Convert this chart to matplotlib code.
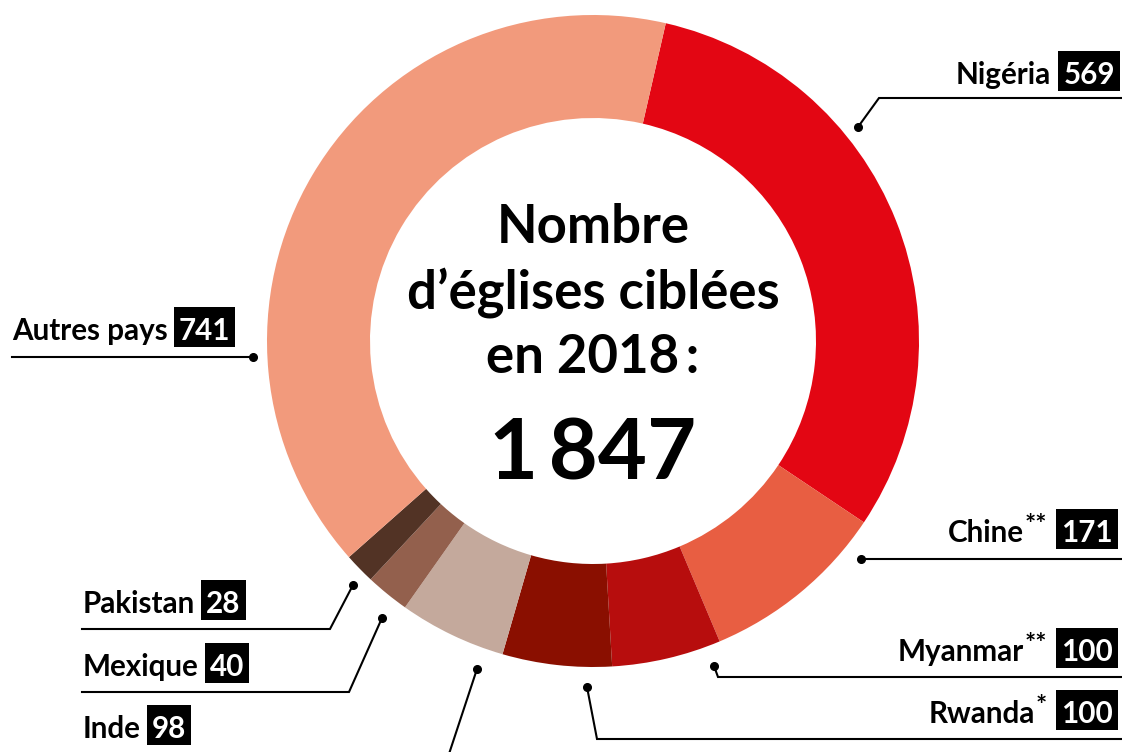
import numpy as np
import matplotlib.pyplot as plt
from matplotlib.patches import Rectangle

plt.rcParams['font.family'] = ['Lato', 'DejaVu Sans']

# donnees
pays = ["Nigéria", "Chine**", "Myanmar**", "Rwanda*", "Inde", "Mexique", "Pakistan", "Autres pays"]
eglises = [569, 171, 100, 100, 98, 40, 28, 741]
couleurs = ["#e30613", "#e85e42", "#b70d0d", "#8a0f00", "#c4a99c", "#93604d", "#523325", "#f29a7c"]
total = sum(eglises)

# mise en page (pixels, y vers le bas)
cx, cy = 593, 341
R = 326
largeur = 103

fig = plt.figure(figsize=(11.22, 7.52), dpi=100)
ax = fig.add_axes([0, 0, 1, 1])

ax.pie(eglises, colors=couleurs, center=(cx, cy), radius=R,
       startangle=-77.1, counterclock=True,
       wedgeprops=dict(width=largeur, linewidth=0))
ax.set_xlim(0, 1122)
ax.set_ylim(752, 0)
ax.set_aspect('equal')
ax.axis('off')

# texte central
ax.text(cx, 243, "Nombre", ha='center', va='baseline', fontsize=38, fontweight='bold')
ax.text(cx, 308, "d\u2019églises ciblées", ha='center', va='baseline', fontsize=38, fontweight='bold')
ax.text(cx, 373, "en 2018\u2009:", ha='center', va='baseline', fontsize=38, fontweight='bold')
ax.text(cx, 480, f"{total:,}".replace(",", "\u2009"), ha='center', va='baseline',
        fontsize=61, fontweight='bold')

# lignes de rappel : point, coude, fin
rappels = {
    "Nigéria":     [(858, 127), (879, 98), (1122, 98)],
    "Chine**":     [(861, 559), (1122, 559)],
    "Myanmar**":   [(714, 666), (718, 677), (1122, 677)],
    "Rwanda*":     [(587, 687), (597, 739), (1122, 739)],
    "Inde":        [(477, 669), (447, 760)],
    "Mexique":     [(382, 618), (349, 692), (82, 692)],
    "Pakistan":    [(353, 585), (330, 629), (82, 629)],
    "Autres pays": [(253, 357), (12, 357)],
}
for nom, pts in rappels.items():
    xs, ys = zip(*pts)
    ax.plot(xs, ys, color='black', lw=1.5, solid_joinstyle='miter', clip_on=False)
    ax.plot(xs[0], ys[0], 'o', color='black', ms=5.5)

# etiquettes : (x, ligne de base, cote)
etiquettes = {
    "Nigéria":     (1115, 84, 'droite'),
    "Chine**":     (1113, 542, 'droite'),
    "Myanmar**":   (1113, 661, 'droite'),
    "Rwanda*":     (1113, 723, 'droite'),
    "Inde":        (83, 738, 'gauche'),
    "Mexique":     (83, 676, 'gauche'),
    "Pakistan":    (83, 613, 'gauche'),
    "Autres pays": (12, 340, 'gauche'),
}
fs = 21.3
pad_x = 5
renderer = fig.canvas.get_renderer()
inv = ax.transData.inverted()


def etendue(t):
    bb = t.get_window_extent(renderer)
    (x0, _), (x1, _) = inv.transform([(bb.x0, bb.y0), (bb.x1, bb.y1)])
    return min(x0, x1), max(x0, x1)


def boite(num, y):
    x0, x1 = etendue(num)
    ax.add_patch(Rectangle((x0 - pad_x, y - 33), x1 - x0 + 2 * pad_x, 40,
                           fc='black', ec='none', zorder=2))
    return x0 - pad_x, x1 + pad_x


for nom, val in zip(pays, eglises):
    x, y, cote = etiquettes[nom]
    base = nom.rstrip('*')
    etoiles = nom[len(base):]
    if cote == 'droite':
        num = ax.text(x, y, str(val), ha='right', va='baseline', fontsize=fs,
                      fontweight='bold', color='white', zorder=3)
        bx0, _ = boite(num, y)
        if etoiles:
            st = ax.text(bx0 - 9, y - 9, etoiles, ha='right', va='baseline',
                         fontsize=19, fontweight='bold')
            sx0, _ = etendue(st)
            ax.text(sx0 - 1, y, base, ha='right', va='baseline', fontsize=fs,
                    fontweight='bold')
        else:
            ax.text(bx0 - 8, y, base, ha='right', va='baseline', fontsize=fs,
                    fontweight='bold')
    else:
        t = ax.text(x, y, nom, ha='left', va='baseline', fontsize=fs, fontweight='bold')
        _, tx1 = etendue(t)
        num = ax.text(tx1 + 6 + pad_x, y, str(val), ha='left', va='baseline',
                      fontsize=fs, fontweight='bold', color='white', zorder=3)
        boite(num, y)

fig.savefig("out.png", dpi=100)
